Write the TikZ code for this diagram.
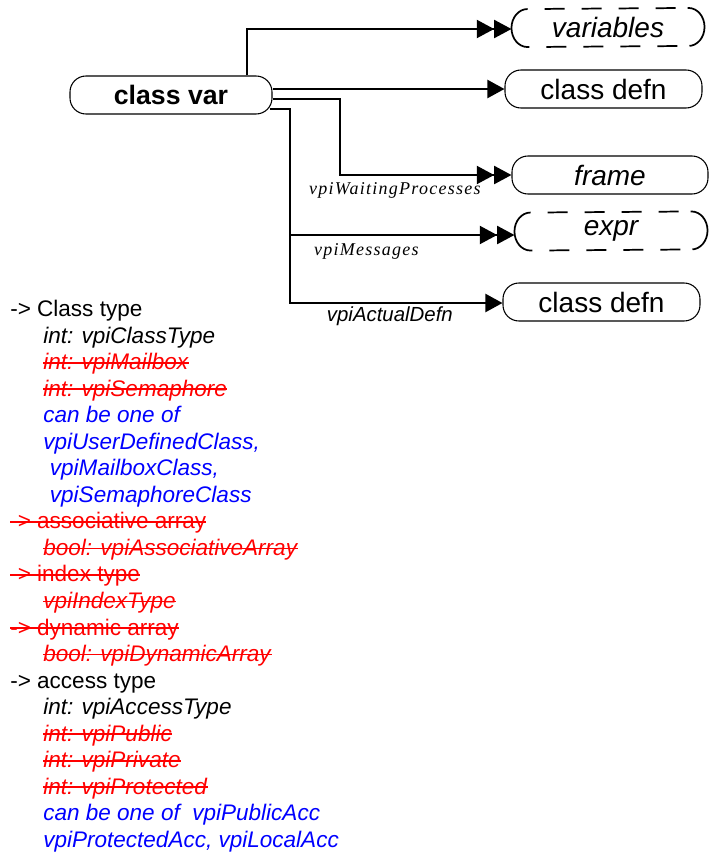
\documentclass[tikz,border=0pt]{standalone}
\usepackage{fontspec}
\setmainfont{Liberation Sans}
\newfontfamily\labelfont{Liberation Serif}[LetterSpace=7]
\usetikzlibrary{arrows.meta,calc}
\newcommand{\ntab}{\hspace*{24.75pt}}
\newcommand{\struck}[1]{{\color{red}\setbox0\hbox{#1}\rlap{\rule[0.27em]{\wd0}{1.3pt}}\box0}}
\tikzset{
  obj/.style={draw, rounded corners=12pt, line width=0.8pt, minimum height=28.5pt, inner sep=0pt,
    font=\fontsize{21}{24}\selectfont},
  objd/.style={obj, draw=none, minimum width=144pt},
  dashline/.style={line width=1.3pt,
    dash pattern=on 41.3pt off 12.75pt on 15pt off 12.75pt on 15pt off 12.75pt on 15pt off 12.75pt on 15pt off 9pt
      on 41.3pt off 9pt on 15pt off 12.75pt on 15pt off 12.75pt on 15pt off 12.75pt on 15pt off 12.75pt},
  link/.style={line width=1.6pt},
  onehead/.style={link, -{Triangle[length=12.75pt,width=13.5pt]}},
  twohead/.style={link, -{Triangle[length=13pt,width=13.5pt,sep=0pt]Triangle[length=13pt,width=13.5pt]}},
  lbl/.style={font=\labelfont\itshape\fontsize{13.5}{16}\selectfont, inner sep=2pt},
  lbls/.style={font=\itshape\fontsize{15.3}{18}\selectfont, inner sep=2pt},
  notes/.style={align=left, inner sep=0pt, font=\fontsize{16.9}{19.9}\selectfont}
}
\newcommand{\dashoutline}[1]{%
  \draw[dashline] ([xshift=12pt]#1.south west)
    arc[start angle=270, end angle=90, x radius=12pt, y radius=14.25pt]
    -- ([xshift=-12pt]#1.north east)
    arc[start angle=90, end angle=-90, x radius=12pt, y radius=14.25pt]
    -- cycle;}
\begin{document}
\begin{tikzpicture}[x=0.75pt, y=-0.75pt]
\useasboundingbox (0,0) rectangle (710,854);

% objects
\node[obj, minimum width=151.5pt, font=\bfseries\fontsize{20}{24}\selectfont] (cv) at (171,95) {class var};
\node[objd] (vars) at (608,27.5) {\itshape variables};
\node[obj, minimum width=147.75pt] (cd1) at (603.5,89) {class defn};
\node[obj, minimum width=147pt] (frame) at (610,175) {\itshape frame};
\node[objd] (expr) at (611,231) {\itshape expr};
\node[obj, minimum width=147.75pt] (cd2) at (601.5,302) {class defn};
\dashoutline{vars}
\dashoutline{expr}

% bends
\coordinate (up1) at (247,29);
\coordinate (bend1) at (340,175);
\coordinate (bend2) at (290,235);
\coordinate (bend3) at (290,303);

% links
\draw[twohead] (cv.north -| up1) |- (up1 -| vars.west);
\draw[onehead] (cv.east |- cd1.west) -- (cd1.west);
\draw[twohead] ($(cv.east)+(0,4)$) -| (bend1)
  -- node[lbl, below, pos=0.32, yshift=-3pt] {vpiWaitingProcesses} (bend1 -| frame.west);
\draw[twohead] ($(cv.east)+(-3,14)$) -| (bend2)
  -- node[lbl, below, pos=0.34, yshift=-4pt] {vpiMessages} (bend2 -| expr.west);
\draw[onehead] (bend2) -- (bend3)
  -- node[lbls, below, pos=0.47] {vpiActualDefn} (bend3 -| cd2.west);

% properties
\node[notes, anchor=north west] (props) at (10,300) {%
-> Class type\\
\ntab\textit{int: vpiClassType}\\
\ntab\struck{\textit{int: vpiMailbox}}\\
\ntab\struck{\textit{int: vpiSemaphore}}\\
\ntab\textcolor{blue}{\textit{can be one of}}\\
\ntab\textcolor{blue}{\textit{vpiUserDefinedClass,}}\\
\ntab\hspace*{5pt}\textcolor{blue}{\textit{vpiMailboxClass,}}\\
\ntab\hspace*{5pt}\textcolor{blue}{\textit{vpiSemaphoreClass}}\\
\struck{-> associative array}\\
\ntab\struck{\textit{bool: vpiAssociativeArray}}\\
\struck{-> index type}\\
\ntab\struck{\textit{vpiIndexType}}\\
\struck{-> dynamic array}\\
\ntab\struck{\textit{bool: vpiDynamicArray}}\\
-> access type\\
\ntab\textit{int: vpiAccessType}\\
\ntab\struck{\textit{int: vpiPublic}}\\
\ntab\struck{\textit{int: vpiPrivate}}\\
\ntab\struck{\textit{int: vpiProtected}}\\
\ntab\textcolor{blue}{\textit{can be one of~ vpiPublicAcc}}\\
\ntab\textcolor{blue}{\textit{vpiProtectedAcc, vpiLocalAcc}}};
\end{tikzpicture}
\end{document}
